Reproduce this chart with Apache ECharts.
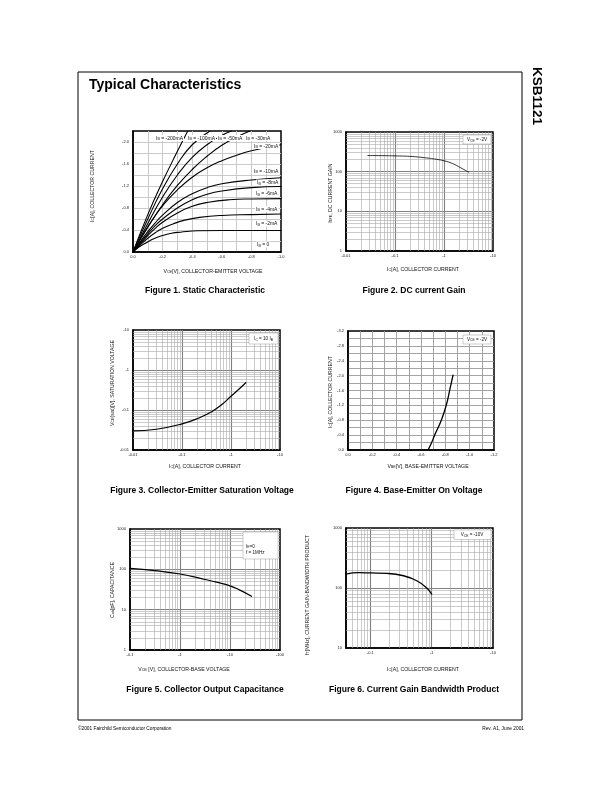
<!DOCTYPE html>
<html>
<head>
<meta charset="utf-8">
<script src="https://cdn.jsdelivr.net/npm/echarts@6/dist/echarts.min.js"></script>
<style>
html, body { margin: 0; padding: 0; background: #fff; }
#page { width: 612px; height: 792px; }
</style>
</head>
<body>
<div id="page"></div>
<script>
var FONT = '"Liberation Sans", Arial, sans-serif';

// Figure 1: static characteristic, |VCE| [V] vs |IC| [A], one list per base current
var ib200 = [[0, 0], [0.1, 0.68], [0.2, 1.28], [0.3, 1.83], [0.37, 2.2]];
var ib100 = [[0, 0], [0.1, 0.6], [0.2, 1.15], [0.3, 1.6], [0.4, 1.95], [0.52, 2.2]];
var ib50 = [[0, 0], [0.1, 0.52], [0.2, 1.0], [0.3, 1.4], [0.4, 1.72], [0.5, 1.95], [0.6, 2.12], [0.665, 2.2]];
var ib30 = [[0, 0], [0.1, 0.45], [0.2, 0.86], [0.3, 1.21], [0.4, 1.5], [0.5, 1.74], [0.6, 1.94], [0.7, 2.09], [0.79, 2.2]];
var ib20 = [[0, 0], [0.05, 0.24], [0.1, 0.46], [0.15, 0.66], [0.2, 0.84], [0.3, 1.13], [0.4, 1.36], [0.5, 1.53], [0.6, 1.66], [0.7, 1.76], [0.8, 1.84], [1.0, 1.95]];
var ib10 = [[0, 0], [0.05, 0.19], [0.1, 0.37], [0.15, 0.53], [0.2, 0.67], [0.3, 0.9], [0.4, 1.06], [0.5, 1.17], [0.6, 1.24], [0.8, 1.31], [1.0, 1.35]];
var ib8 = [[0, 0], [0.05, 0.17], [0.1, 0.33], [0.15, 0.48], [0.2, 0.6], [0.3, 0.8], [0.4, 0.95], [0.5, 1.05], [0.6, 1.11], [0.8, 1.17], [1.0, 1.19]];
var ib6 = [[0, 0], [0.05, 0.15], [0.1, 0.3], [0.15, 0.43], [0.2, 0.54], [0.3, 0.71], [0.4, 0.83], [0.5, 0.9], [0.65, 0.95], [0.8, 0.965], [1.0, 0.97]];
var ib4 = [[0, 0], [0.05, 0.13], [0.1, 0.25], [0.15, 0.35], [0.2, 0.43], [0.27, 0.51], [0.35, 0.58], [0.45, 0.63], [0.6, 0.665], [0.8, 0.68], [1.0, 0.69]];
var ib2 = [[0, 0], [0.04, 0.09], [0.09, 0.17], [0.14, 0.24], [0.2, 0.3], [0.26, 0.34], [0.32, 0.36], [0.44, 0.385], [0.6, 0.39], [1.0, 0.39]];
var fig1Curves = [ib200, ib100, ib50, ib30, ib20, ib10, ib8, ib6, ib4, ib2];
var fig1Names = ['-200mA', '-100mA', '-50mA', '-30mA', '-20mA', '-10mA', '-8mA', '-6mA', '-4mA', '-2mA', '0'];

// Figure 2: DC current gain
var fig2Ic = [0.028, 0.06, 0.1, 0.2, 0.4, 0.7, 1.0, 1.5, 2.2, 3.2];
var fig2Hfe = [255, 253, 250, 243, 225, 205, 188, 160, 125, 97];
var fig2XLabels = ['-0.01', '-0.1', '-1', '-10'];
var fig2YLabels = ['1', '10', '100', '1000'];

// Figure 3: collector-emitter saturation voltage
var fig3Ic = [0.01, 0.03, 0.1, 0.22, 0.41, 0.66, 1.0, 1.5, 2.0];
var fig3Vsat = [0.030, 0.033, 0.045, 0.063, 0.092, 0.139, 0.22, 0.344, 0.48];
var fig3XLabels = ['-0.01', '-0.1', '-1', '-10'];
var fig3YLabels = ['-0.01', '-0.1', '-1', '-10'];

// Figure 4: base-emitter on voltage
var fig4Vbe = [0.658, 0.685, 0.712, 0.767, 0.808, 0.836, 0.863];
var fig4Ic = [0, 0.18, 0.40, 0.80, 1.21, 1.61, 2.01];

// Figure 5: collector output capacitance
var fig5Vcb = [0.1, 0.316, 1, 3.16, 5.4, 10, 15.8, 27];
var fig5Cob = [106, 93, 76.5, 56, 48, 39, 30.5, 21.5];
var fig5XLabels = ['-0.1', '-1', '-10', '-100'];
var fig5YLabels = ['1', '10', '100', '1000'];

// Figure 6: current gain bandwidth product
var fig6Ic = [0.04, 0.065, 0.1, 0.186, 0.347, 0.57, 0.83, 1.0];
var fig6Ft = [171, 180, 178, 175, 160, 132, 100, 79];
var fig6XLabels = ['-0.1', '-1', '-10'];
var fig6YLabels = ['10', '100', '1000'];

var grids = [
    {left: 133, top: 131, width: 148, height: 121},
    {left: 346, top: 132, width: 147, height: 119},
    {left: 133, top: 330, width: 147, height: 120},
    {left: 348, top: 331, width: 146, height: 119},
    {left: 130, top: 529, width: 150, height: 121},
    {left: 346, top: 528, width: 147, height: 120}
];
grids.forEach(function (g) {
    g.show = true;
    g.borderColor = '#000';
    g.borderWidth = 1.5;
});

function baseAxis(gi, dim, gridColor) {
    return {
        gridIndex: gi,
        position: dim === 'x' ? 'bottom' : 'left',
        axisLine: {show: true, onZero: false, lineStyle: {color: '#000', width: 1.5}},
        axisTick: {show: false},
        splitLine: {show: true, showMinLine: false, showMaxLine: false, lineStyle: {color: gridColor, width: 0.9}},
        axisLabel: {fontSize: 4, color: '#222', fontFamily: FONT, margin: dim === 'x' ? 3 : 4, showMinLabel: true, showMaxLabel: true}
    };
}

// linear axis: one grid line per step, a label every "every" steps
function linAxis(gi, dim, max, step, every, gridColor) {
    var a = baseAxis(gi, dim, gridColor);
    a.type = 'value';
    a.min = 0;
    a.max = max;
    a.interval = step;
    a.axisLabel.formatter = function (v) {
        var k = Math.round(v / step);
        if (k % every) return '';
        return k === 0 ? '0.0' : '-' + v.toFixed(1);
    };
    return a;
}

// log axis, labels only on the decades
function logAxis(gi, dim, min, max, labels, firstExp) {
    var a = baseAxis(gi, dim, '#808080');
    a.type = 'log';
    a.logBase = 10;
    a.min = min;
    a.max = max;
    a.splitLine.lineStyle.width = 1.1;
    a.axisLabel.formatter = function (v) {
        var e = Math.log10(v);
        if (Math.abs(e - Math.round(e)) > 1e-6) return '';
        return labels[Math.round(e) - firstExp] || '';
    };
    return a;
}

function minorVals(min, max) {
    var out = [];
    for (var e = Math.floor(Math.log10(min) + 1e-9); e < Math.ceil(Math.log10(max) - 1e-9); e++) {
        for (var k = 2; k <= 9; k++) {
            var v = k * Math.pow(10, e);
            if (v > min * 1.0001 && v < max * 0.9999) out.push(v);
        }
    }
    return out;
}

// thin log grid lines drawn as mark lines on an empty series
function minorGrid(gi, xr, yr) {
    var d = [];
    if (xr) minorVals(xr[0], xr[1]).forEach(function (v) { d.push({xAxis: v}); });
    if (yr) minorVals(yr[0], yr[1]).forEach(function (v) { d.push({yAxis: v}); });
    return {
        type: 'line', xAxisIndex: gi, yAxisIndex: gi, data: [], z: 1, silent: true,
        markLine: {
            silent: true, animation: false, symbol: ['none', 'none'], label: {show: false},
            lineStyle: {color: '#a8a8a8', width: 0.6, type: 'solid'},
            emphasis: {disabled: true},
            data: d
        }
    };
}

function curve(gi, data, w) {
    return {
        type: 'line', xAxisIndex: gi, yAxisIndex: gi, data: data, z: 5,
        symbol: 'none', showSymbol: false, smooth: 0.5, silent: true,
        lineStyle: {color: '#000', width: w || 1.2, join: 'round', cap: 'round'}
    };
}

function zip(xs, ys) {
    return xs.map(function (x, i) { return [x, ys[i]]; });
}

var xAxes = [
    linAxis(0, 'x', 1.0, 0.1, 2, '#c4c4c4'),
    logAxis(1, 'x', 0.01, 10, fig2XLabels, -2),
    logAxis(2, 'x', 0.01, 10, fig3XLabels, -2),
    linAxis(3, 'x', 1.2, 0.1, 2, '#9a9a9a'),
    logAxis(4, 'x', 0.1, 100, fig5XLabels, -1),
    logAxis(5, 'x', 0.04, 10, fig6XLabels, -1)
];
var yAxes = [
    linAxis(0, 'y', 2.2, 0.2, 2, '#c4c4c4'),
    logAxis(1, 'y', 1, 1000, fig2YLabels, 0),
    logAxis(2, 'y', 0.01, 10, fig3YLabels, -2),
    linAxis(3, 'y', 3.2, 0.2, 2, '#9a9a9a'),
    logAxis(4, 'y', 1, 1000, fig5YLabels, 0),
    logAxis(5, 'y', 10, 1000, fig6YLabels, 1)
];

var series = [
    minorGrid(1, [0.01, 10], [1, 1000]),
    minorGrid(2, [0.01, 10], [0.01, 10]),
    minorGrid(4, [0.1, 100], [1, 1000]),
    minorGrid(5, [0.04, 10], [10, 1000])
];
fig1Curves.forEach(function (c) { series.push(curve(0, c, 1.1)); });
series.push(curve(1, zip(fig2Ic, fig2Hfe), 0.8));
series.push(curve(2, zip(fig3Ic, fig3Vsat), 1.2));
series.push(curve(3, zip(fig4Vbe, fig4Ic), 1.3));
series.push(curve(4, zip(fig5Vcb, fig5Cob), 1.2));
series.push(curve(5, zip(fig6Ic, fig6Ft), 1.3));

// text with ~subscript~ parts
function rich(str, fs, color) {
    var out = '';
    str.split('~').forEach(function (p, i) {
        if (p) out += '{' + (i % 2 ? 's' : 'n') + '|' + p + '}';
    });
    var c = color || '#111';
    return {
        text: out,
        rich: {
            n: {fontSize: fs, fontFamily: FONT, fill: c, lineHeight: fs + 1, verticalAlign: 'bottom'},
            s: {fontSize: fs * 0.72, fontFamily: FONT, fill: c, lineHeight: fs * 0.4, verticalAlign: 'bottom'}
        }
    };
}

function txt(x, y, str, fs, opt) {
    opt = opt || {};
    var r = rich(str, fs, opt.color);
    var st = {
        text: r.text, rich: r.rich,
        align: opt.align || 'center', verticalAlign: 'middle',
        textAlign: opt.align || 'center', textVerticalAlign: 'middle',
        fontSize: fs, fontFamily: FONT
    };
    if (opt.bg) { st.backgroundColor = opt.bg; st.padding = [0, 1]; }
    return {type: 'text', x: x, y: y, rotation: opt.rot || 0, z: 60, silent: true, style: st};
}

function plain(x, y, str, fs, weight, align, rot) {
    return {
        type: 'text', x: x, y: y, rotation: rot || 0, z: 60, silent: true,
        style: {
            text: str, fontSize: fs, fontWeight: weight, fontFamily: FONT, fill: '#000',
            align: align, verticalAlign: 'middle', textAlign: align, textVerticalAlign: 'middle'
        }
    };
}

function box(x, y, w, h) {
    return {
        type: 'rect', z: 55, silent: true, shape: {x: x, y: y, width: w, height: h},
        style: {fill: '#fff', stroke: '#9a9a9a', lineWidth: 0.5}
    };
}

var V = Math.PI / 2;
var gfx = [
    {type: 'rect', z: 0, silent: true, shape: {x: 78, y: 72, width: 444, height: 648}, style: {fill: 'none', stroke: '#000', lineWidth: 1}},
    plain(89, 85, 'Typical Characteristics', 14, 'bold', 'left'),
    plain(537, 96, 'KSB1121', 13.5, 'bold', 'center', -V),
    plain(78, 729, '\u00a92001 Fairchild Semiconductor Corporation', 4.8, 'normal', 'left'),
    plain(524, 729, 'Rev. A1, June 2001', 4.8, 'normal', 'right'),

    plain(205, 291, 'Figure 1. Static Characteristic', 8.5, 'bold', 'center'),
    plain(414, 291, 'Figure 2. DC current Gain', 8.5, 'bold', 'center'),
    plain(202, 491, 'Figure 3. Collector-Emitter Saturation Voltage', 8.5, 'bold', 'center'),
    plain(414, 491, 'Figure 4. Base-Emitter On Voltage', 8.5, 'bold', 'center'),
    plain(205, 690, 'Figure 5. Collector Output Capacitance', 8.5, 'bold', 'center'),
    plain(414, 690, 'Figure 6. Current Gain Bandwidth Product', 8.5, 'bold', 'center'),

    txt(92, 186, 'I~C~[A], COLLECTOR CURRENT', 5.2, {rot: V}),
    txt(213, 271, 'V~CE~[V], COLLECTOR-EMITTER VOLTAGE', 5.2),
    txt(330, 193, 'h~FE~, DC CURRENT GAIN', 5.2, {rot: V}),
    txt(423, 269, 'I~C~[A], COLLECTOR CURRENT', 5.2),
    txt(112, 383, 'V~CE~(sat)[V], SATURATION VOLTAGE', 5.2, {rot: V}),
    txt(205, 466, 'I~C~[A], COLLECTOR CURRENT', 5.2),
    txt(330, 392, 'I~C~[A], COLLECTOR CURRENT', 5.2, {rot: V}),
    txt(428, 466, 'V~BE~[V], BASE-EMITTER VOLTAGE', 5.2),
    txt(112, 590, 'C~ob~[pF], CAPACITANCE', 5.2, {rot: V}),
    txt(184, 669, 'V~CB~ [V], COLLECTOR-BASE VOLTAGE', 5.2),
    txt(307, 595, 'f~T~[MHz], CURRENT GAIN-BANDWIDTH PRODUCT', 5.2, {rot: V}),
    txt(423, 669, 'I~C~[A], COLLECTOR CURRENT', 5.2),

    box(463, 135, 28, 9), txt(477, 139.5, 'V~CE~ = -2V', 4.6),
    box(249, 333, 29, 11), txt(263.5, 338.5, 'I~C~ = 10 I~B~', 4.6),
    box(463, 335, 28, 9), txt(477, 339, 'V~CE~ = -2V', 4.6),
    box(243, 532, 35, 27), txt(246, 546, 'I~E~=0', 4.6, {align: 'left'}), txt(246, 552.5, 'f = 1MHz', 4.6, {align: 'left'}),
    box(454, 530, 37, 9.5), txt(472, 534.5, 'V~CE~ = -10V', 4.6)
];

// base current labels of figure 1
var fig1LabelPos = [[155, 138], [187, 138], [217, 138], [245, 138], [253, 146], [253, 171], [256, 182.5], [255, 193.5], [255, 209], [255, 223.5], [256, 244.5]];
fig1Names.forEach(function (n, i) {
    gfx.push(txt(fig1LabelPos[i][0], fig1LabelPos[i][1], 'I~B~ = ' + n, 5, {align: 'left', bg: '#fff'}));
});

var chart = echarts.init(document.getElementById('page'), null, {renderer: 'canvas'});
chart.setOption({
    animation: false,
    backgroundColor: '#fff',
    grid: grids,
    xAxis: xAxes,
    yAxis: yAxes,
    series: series,
    graphic: {elements: gfx}
});
</script>
</body>
</html>
